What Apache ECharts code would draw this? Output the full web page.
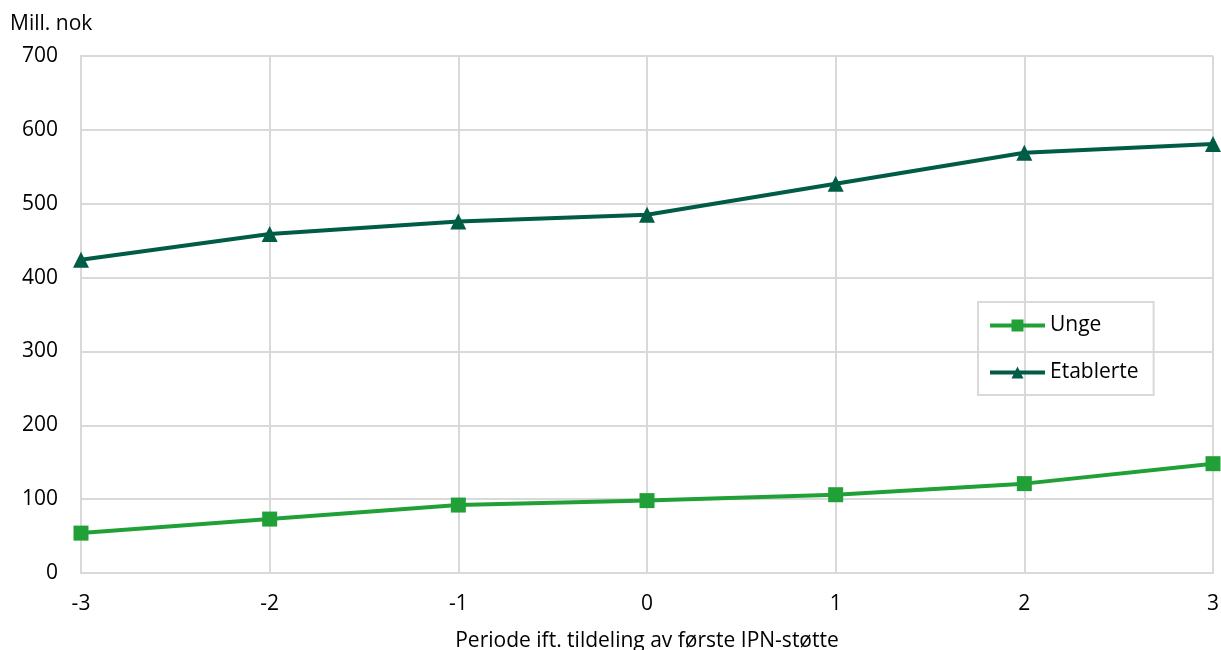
<!DOCTYPE html>
<html>
<head>
<meta charset="utf-8">
<script src="https://cdn.jsdelivr.net/npm/echarts@6/dist/echarts.min.js"></script>
<style>html,body{margin:0;padding:0;background:#fff;}#c{width:1221px;height:650px;}</style>
</head>
<body>
<div id="c"></div>
<script>
const categories = ['-3', '-2', '-1', '0', '1', '2', '3'];
const unge = [54, 73, 92, 98, 106, 121, 148];
const etablerte = [424, 459, 476, 485, 527, 569, 581];
const yTicks = { min: 0, max: 700, interval: 100 };
const xTitle = 'Periode ift. tildeling av første IPN-støtte';
const yTitle = 'Mill. nok';

const font = 'Open Sans';
const fs = 21;
const chart = echarts.init(document.getElementById('c'));
chart.setOption({
  animation: false,
  textStyle: { fontFamily: font },
  grid: { left: 81, right: 8, top: 56, bottom: 77, containLabel: false, outerBoundsMode: 'none' },
  graphic: [{ type: 'text', left: 10, top: 14, style: { text: yTitle, font: fs + 'px "Open Sans"', fill: '#000' } }],
  legend: {
    orient: 'vertical', left: 978, top: 302,
    padding: [13, 15, 12, 10], itemGap: 26, itemWidth: 55, itemHeight: 15,
    borderColor: '#d9d9d9', borderWidth: 2,
    textStyle: { fontFamily: font, fontSize: fs, color: '#000' },
    data: [
      { name: 'Unge', lineStyle: { width: 4 } },
      { name: 'Etablerte', lineStyle: { width: 4 } }
    ]
  },
  xAxis: {
    type: 'category', data: categories, boundaryGap: false,
    name: xTitle, nameLocation: 'middle', nameGap: 58,
    nameTextStyle: { fontFamily: font, fontSize: fs, color: '#000' },
    axisLine: { show: true, lineStyle: { color: '#d9d9d9', width: 2 } },
    axisTick: { show: false },
    axisLabel: { fontFamily: font, fontSize: fs, color: '#000', margin: 21 },
    splitLine: { show: true, lineStyle: { color: '#d9d9d9', width: 2 } }
  },
  yAxis: {
    type: 'value', min: yTicks.min, max: yTicks.max, interval: yTicks.interval,
    axisLine: { show: true, lineStyle: { color: '#d9d9d9', width: 2 } },
    axisTick: { show: false },
    axisLabel: { fontFamily: font, fontSize: fs, color: '#000', margin: 23 },
    splitLine: { show: true, lineStyle: { color: '#d9d9d9', width: 2 } }
  },
  series: [
    { name: 'Unge', type: 'line', data: unge, symbol: 'rect', symbolSize: 15,
      lineStyle: { color: '#21a038', width: 4 }, itemStyle: { color: '#21a038' } },
    { name: 'Etablerte', type: 'line', data: etablerte, symbol: 'triangle', symbolSize: 16,
      lineStyle: { color: '#005c44', width: 4 }, itemStyle: { color: '#005c44' } }
  ]
});
</script>
</body>
</html>
